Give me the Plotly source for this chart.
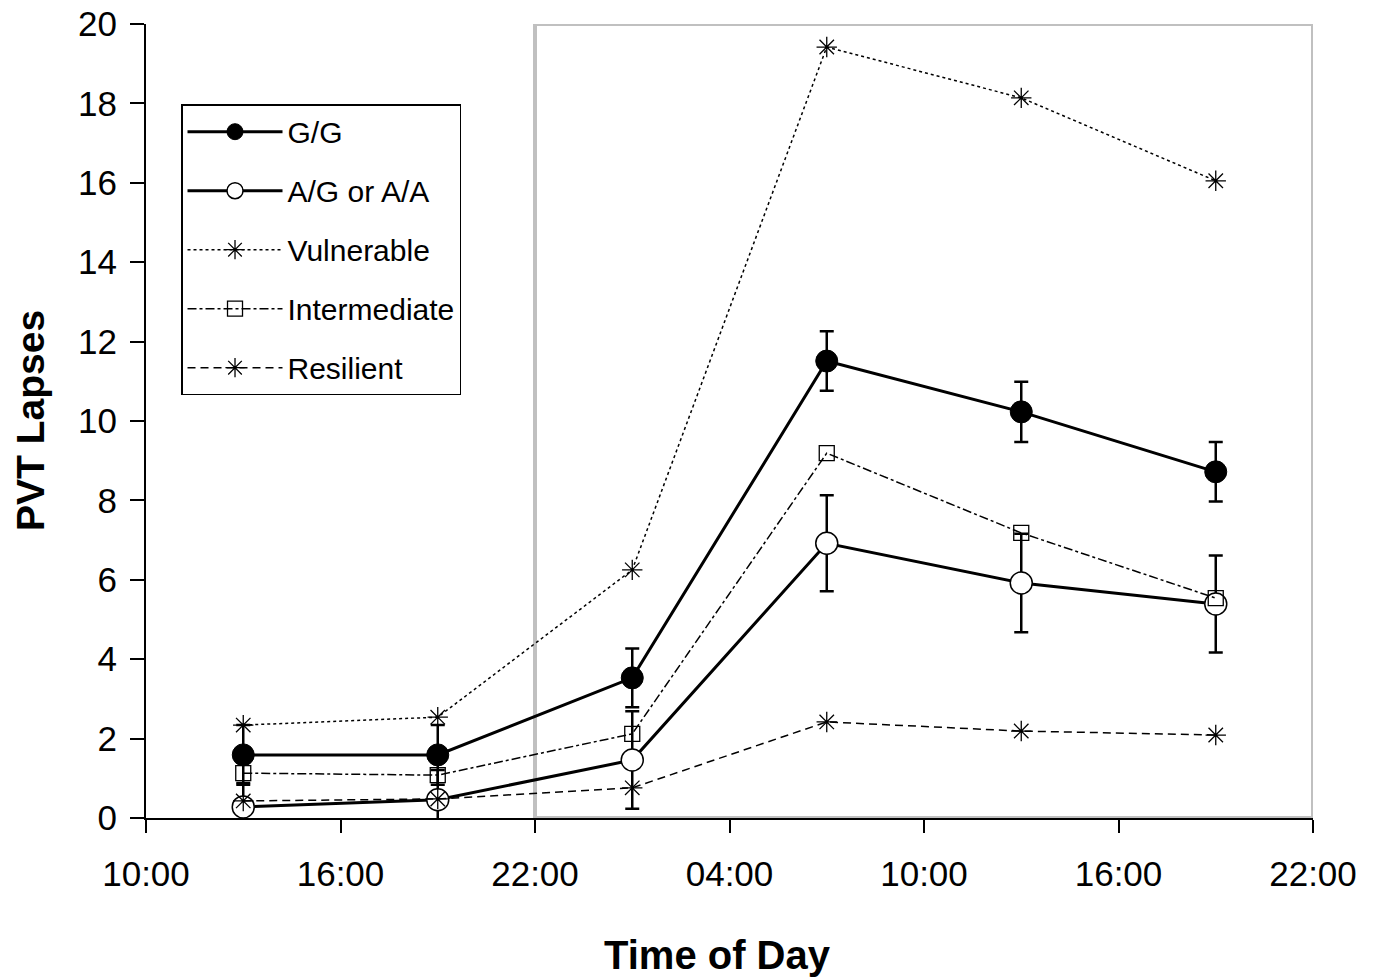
import plotly.graph_objects as go

# hours since 10:00 on day 1
time_hours = [3, 9, 15, 21, 27, 33]
tick_vals = [0, 6, 12, 18, 24, 30, 36]
tick_text = ["10:00", "16:00", "22:00", "04:00", "10:00", "16:00", "22:00"]

gg = [1.59, 1.59, 3.53, 11.51, 10.23, 8.72]
gg_err = [0.75, 0.75, 0.74, 0.75, 0.76, 0.75]
ag = [0.28, 0.46, 1.46, 6.92, 5.92, 5.39]
ag_err = [0.6, 0.75, 1.23, 1.21, 1.24, 1.22]
vulnerable = [2.34, 2.54, 6.25, 19.42, 18.14, 16.05]
intermediate = [1.13, 1.08, 2.12, 9.19, 7.18, 5.54]
resilient = [0.43, 0.48, 0.76, 2.42, 2.19, 2.09]

FONT = "Liberation Sans, Arial, Helvetica, sans-serif"

fig = go.Figure()

fig.add_trace(go.Scatter(
    x=time_hours, y=gg, name="G/G", mode="lines+markers", legendgroup="a",
    line=dict(color="black", width=3),
    marker=dict(symbol="circle", size=22, color="black", line=dict(color="black", width=1)),
    error_y=dict(type="data", array=gg_err, color="black", thickness=2.5, width=7),
    cliponaxis=False,
))
fig.add_trace(go.Scatter(
    x=time_hours, y=ag, name="A/G or A/A", mode="lines+markers", legendgroup="b",
    line=dict(color="black", width=3),
    marker=dict(symbol="circle", size=22, color="white", line=dict(color="black", width=1.5)),
    error_y=dict(type="data", array=ag_err, color="black", thickness=2.5, width=7),
    cliponaxis=False,
))
fig.add_trace(go.Scatter(
    x=time_hours, y=vulnerable, name="Vulnerable", mode="lines+markers", legendgroup="c",
    line=dict(color="black", width=1.5, dash="dot"),
    marker=dict(symbol="asterisk-open", size=17, color="black", line=dict(color="black", width=1.3)),
    cliponaxis=False,
))
fig.add_trace(go.Scatter(
    x=time_hours, y=intermediate, name="Intermediate", mode="lines+markers", legendgroup="d",
    line=dict(color="black", width=1.5, dash="dashdot"),
    marker=dict(symbol="square-open", size=15, color="black", line=dict(color="black", width=1.3)),
    cliponaxis=False,
))
fig.add_trace(go.Scatter(
    x=time_hours, y=resilient, name="Resilient", mode="lines+markers", legendgroup="e",
    line=dict(color="black", width=1.5, dash="8px,5px"),
    marker=dict(symbol="asterisk-open", size=17, color="black", line=dict(color="black", width=1.3)),
    cliponaxis=False,
))

fig.add_shape(type="rect", xref="x", yref="y", x0=12, x1=36, y0=0, y1=20,
              line=dict(color="#c0c0c0", width=4), layer="below")

fig.update_xaxes(
    range=[0, 36], tickmode="array", tickvals=tick_vals, ticktext=tick_text,
    showline=True, linecolor="black", linewidth=2,
    ticks="outside", ticklen=13, tickwidth=2, tickcolor="black",
    showgrid=False, zeroline=False, ticklabelstandoff=11, automargin=False,
    tickfont=dict(family=FONT, size=35, color="black"),
)
fig.update_yaxes(
    range=[0, 20], tickmode="linear", tick0=0, dtick=2,
    showline=True, linecolor="black", linewidth=2,
    ticks="outside", ticklen=14, tickwidth=2, tickcolor="black",
    showgrid=False, zeroline=False, ticklabelstandoff=6, automargin=False,
    tickfont=dict(family=FONT, size=35, color="black"),
)

fig.add_annotation(text="<b>PVT Lapses</b>", xref="paper", yref="paper",
                   x=-0.0994, y=0.5, textangle=-90, showarrow=False,
                   xanchor="center", yanchor="middle",
                   font=dict(family=FONT, size=39, color="black"))
fig.add_annotation(text="<b>Time of Day</b>", xref="paper", yref="paper",
                   x=0.49, y=-0.1725, showarrow=False,
                   xanchor="center", yanchor="middle",
                   font=dict(family=FONT, size=40, color="black"))

fig.update_layout(
    width=1376, height=979,
    margin=dict(l=146, r=63, t=24, b=161),
    paper_bgcolor="white", plot_bgcolor="white",
    showlegend=True,
    legend=dict(
        x=0.03, y=0.899, xanchor="left", yanchor="top",
        bgcolor="white", bordercolor="black", borderwidth=1.5,
        font=dict(family=FONT, size=30, color="black"),
        tracegroupgap=17, itemwidth=95, traceorder="grouped",
    ),
)

# remove the default 8px page margin so the figure fills the window exactly
fig.write_html("out.html", config={"displayModeBar": False},
               post_script="document.body.style.margin='0';")
